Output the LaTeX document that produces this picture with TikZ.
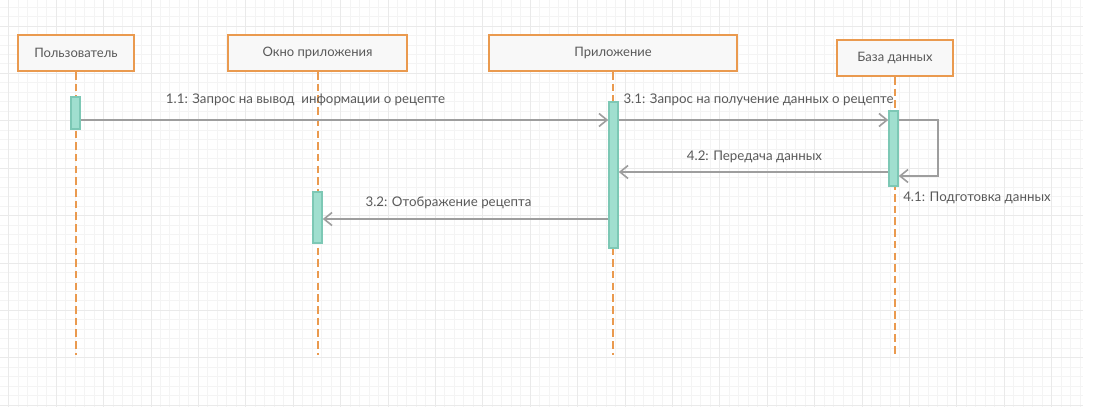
\documentclass[tikz,border=0pt]{standalone}
\usepackage{fontspec}
\setmainfont{Lato}
\usetikzlibrary{arrows.meta}
\definecolor{gridminor}{HTML}{F4F4F4}
\definecolor{gridmajor}{HTML}{EAEAEA}
\definecolor{lifeor}{HTML}{EA9A4F}
\definecolor{boxfill}{HTML}{F8F8F8}
\definecolor{actfill}{HTML}{A0DFCF}
\definecolor{actdraw}{HTML}{7DC8B5}
\definecolor{msgcol}{HTML}{9E9E9E}
\definecolor{txt}{HTML}{595959}
\begin{document}
\begin{tikzpicture}[x=1pt,y=-1pt,
  header/.style={draw=lifeor, line width=2pt, fill=boxfill, text=txt,
    font=\fontsize{13}{15}\selectfont, inner sep=0pt, minimum height=36pt},
  actbox/.style={draw=actdraw, line width=1.5pt, fill=actfill, inner sep=0pt, minimum width=9pt},
  lifeline/.style={draw=lifeor, line width=2pt, dash pattern=on 7.5pt off 4.2pt},
  msg/.style={draw=msgcol, line width=1.6pt, -{Straight Barb[length=8pt,width=13pt,line width=1.6pt]}},
  lbl/.style={text=txt, font=\fontsize{13.3}{15}\selectfont, inner sep=0pt}]
\useasboundingbox (0,0) rectangle (1110,407);
% grid
\foreach \i in {0,...,113} \draw[gridminor, line width=0.8pt] ({8.7+9.48*\i},0) -- ({8.7+9.48*\i},407);
\foreach \j in {0,...,42} \draw[gridminor, line width=0.8pt] (0,{7.0+9.48*\j}) -- (1083,{7.0+9.48*\j});
\foreach \i in {0,...,22} \draw[gridmajor, line width=0.8pt] ({8.7+47.4*\i},0) -- ({8.7+47.4*\i},407);
\foreach \j in {0,...,8} \draw[gridmajor, line width=0.8pt] (0,{25.96+47.4*\j}) -- (1083,{25.96+47.4*\j});

% headers
\node[header, minimum width=116pt] (h1) at (76,53) {Пользователь};
\node[header, minimum width=179pt] (h2) at (317.5,53) {Окно приложения};
\node[header, minimum width=248pt] (h3) at (613,53) {Приложение};
\node[header, minimum width=116pt] (h4) at (895,58) {База данных};

% lifelines
\coordinate (lend) at (0,355);
\draw[lifeline] (h1.south) -- (h1.south |- lend);
\draw[lifeline] (h2.south) -- (h2.south |- lend);
\draw[lifeline] (h3.south) -- (h3.south |- lend);
\draw[lifeline] (h4.south) -- (h4.south |- lend);

% activations
\node[actbox, minimum height=32pt] (a1) at (75.5,113) {};
\node[actbox, minimum height=51pt] (a2) at (317.5,217.5) {};
\node[actbox, minimum height=146pt] (a3) at (613.5,175) {};
\node[actbox, minimum height=75pt] (a4) at (893.5,148.5) {};

% message rows
\coordinate (r1) at (0,120);
\coordinate (r2) at (0,176);
\coordinate (r3) at (0,172);
\coordinate (r4) at (0,219);
\coordinate (loopx) at (938,0);

\draw[msg] (a1.east |- r1) -- (a3.west |- r1);
\draw[msg] (a3.east |- r1) -- (a4.west |- r1);
\draw[msg] (a4.east |- r1) -- (loopx |- r1) -- (loopx |- r2) -- (a4.east |- r2);
\draw[msg] (a4.west |- r3) -- (a3.east |- r3);
\draw[msg] (a3.west |- r4) -- (a2.east |- r4);

% labels
\node[lbl] (l11) at (305.5,100) {1.1: Запрос на вывод\ \ информации о рецепте};
\node[lbl] (l31) at (758.5,100) {3.1: Запрос на получение данных о рецепте};
\node[lbl] (l42) at (754.5,157) {4.2: Передача данных};
\node[lbl] (l41) at (977,198) {4.1: Подготовка данных};
\node[lbl] (l32) at (448.5,203) {3.2: Отображение рецепта};
\end{tikzpicture}
\end{document}
